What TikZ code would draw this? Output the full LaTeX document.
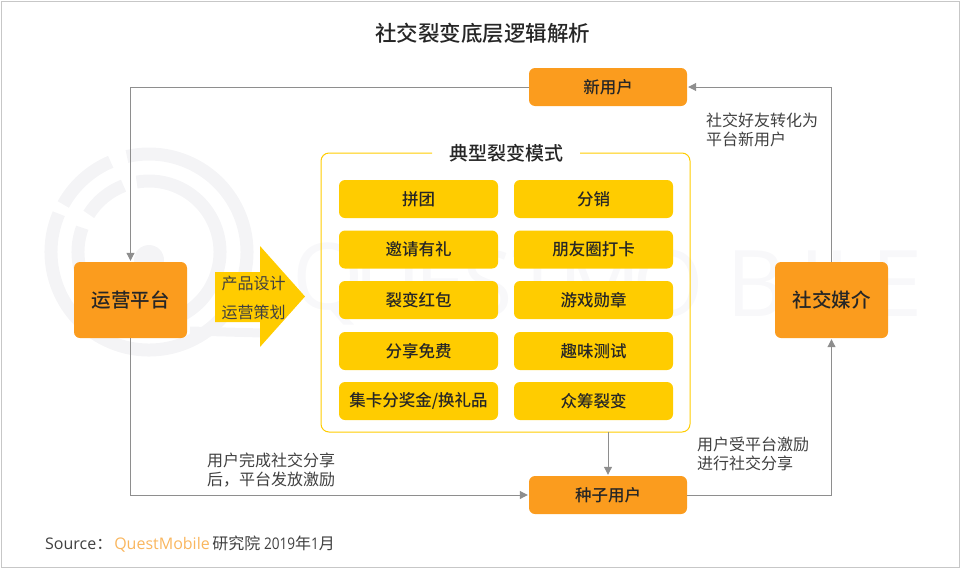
\documentclass[tikz,border=0pt]{standalone}
\usepackage{fontspec}
\setmainfont{Noto Sans CJK SC}
\newfontfamily\mediumfont{Noto Sans CJK SC Medium}
\newfontfamily\latinfont{Open Sans}
\newfontfamily\digitfont[FakeStretch=0.85]{Open Sans}
\usetikzlibrary{arrows.meta}
\definecolor{orangebox}{HTML}{FB9C1E}
\definecolor{yellowbox}{HTML}{FFCC00}
\definecolor{linegray}{HTML}{8E8E8E}
\definecolor{wmgray}{HTML}{F4F4F6}
\definecolor{wmtext}{HTML}{F8F8FA}
\definecolor{textgray}{HTML}{404040}
\definecolor{brandorange}{HTML}{F9B65E}
\begin{document}
\begin{tikzpicture}[x=1pt,y=-1pt,
    flowbox/.style={fill=orangebox,rounded corners=6pt,inner sep=0pt,text=black!85,font=\mediumfont\fontsize{16.5}{20}\selectfont,minimum width=158pt,minimum height=38pt},
    bigbox/.style={flowbox,font=\mediumfont\fontsize{19.5}{24}\selectfont,minimum width=113pt,minimum height=76pt},
    modebox/.style={fill=yellowbox,rounded corners=6pt,inner sep=0pt,text=black!85,font=\mediumfont\fontsize{16.5}{20}\selectfont,minimum width=159pt,minimum height=38pt},
    flowline/.style={draw=linegray,line width=1pt,-{Triangle[length=8pt,width=8pt]},shorten >=1pt},
    note/.style={anchor=west,align=left,inner sep=0pt,text=textgray,font=\fontsize{16}{19.5}\selectfont},
    wmring/.style={draw=wmgray,line width=13pt},
    wmletter/.style={inner sep=0pt,text=wmtext,font=\latinfont\fontsize{92}{92}\selectfont}]
    \path[use as bounding box] (0,0) rectangle (960,568);
    \draw[wmring] (149,252) ++(-157:98) arc[start angle=-157,delta angle=-306,radius=98];
    \draw[wmring] (149,252) ++(-151:98) arc[start angle=-151,delta angle=38,radius=98];
    \draw[wmring] (149,252) ++(-160:71) arc[start angle=-160,delta angle=-300,radius=71];
    \draw[wmring] (149,252) ++(-148:71) arc[start angle=-148,delta angle=37,radius=71];
    \fill[wmgray] (149,260) circle (15);
    \draw[wmgray,line width=9pt] (190,331) -- (262,333);
    \foreach \letter/\xpos in {Q/328,U/388,E/440,S/488,T/538,M/600,O/668,B/756,I/812,L/848,E/897}
        \node[wmletter] (wm\xpos) at (\xpos,284) {\letter};
    \draw[black!22,line width=1pt] (1,1) rectangle (959,567);
    \node[inner sep=0pt,text=black!85,font=\mediumfont\fontsize{21.5}{26}\selectfont] (title) at (482.5,33) {社交裂变底层逻辑解析};
    \node[flowbox] (newuser) at (608,87) {新用户};
    \node[flowbox] (seeduser) at (608,495) {种子用户};
    \node[bigbox] (platform) at (130.5,300) {运营平台};
    \node[bigbox] (social) at (831.5,300) {社交媒介};
    \draw[draw=yellowbox,line width=1pt,rounded corners=8pt] (432,153) -- (321,153) -- (321,432) -- (690,432) -- (690,153) -- (580,153);
    \coordinate (panelbottom) at (608,432);
    \node[inner sep=0pt,text=black!85,font=\mediumfont\fontsize{19}{23}\selectfont] (paneltitle) at (506,153) {典型裂变模式};
    \foreach \name/\modename/\xpos/\ypos in {
        a/拼团/418.5/199,b/邀请有礼/418.5/249.5,c/裂变红包/418.5/300,d/分享免费/418.5/351,e/{集卡分奖金/换礼品}/418.5/401,
        f/分销/593.5/199,g/朋友圈打卡/593.5/249.5,h/游戏勋章/593.5/300,i/趣味测试/593.5/351,j/众筹裂变/593.5/401}
        \node[modebox] (\name) at (\xpos,\ypos) {\modename};
    \fill[yellowbox] (215,272) -- (260,272) -- (260,246) -- (305,296.5) -- (260,347) -- (260,322) -- (215,322) -- cycle;
    \node[inner sep=0pt,text=textgray,font=\fontsize{16}{20}\selectfont] (design) at (253.5,283) {产品设计};
    \node[inner sep=0pt,text=textgray,font=\fontsize{16}{20}\selectfont] (operate) at (253.5,312) {运营策划};
    \draw[flowline] (newuser) -| (platform);
    \draw[flowline] (platform) |- (seeduser);
    \draw[flowline] (seeduser) -| (social);
    \draw[flowline] (social) |- (newuser);
    \draw[flowline] (panelbottom) -- (seeduser);
    \node[note] (noteone) at (706,130) {社交好友转化为\\平台新用户};
    \node[note] (notetwo) at (697,454) {用户受平台激励\\进行社交分享};
    \node[note] (notethree) at (207,470) {用户完成社交分享\\后，平台发放激励};
    \node[anchor=west,inner sep=0pt,text=textgray,font=\fontsize{16}{20}\selectfont] (source) at (45,544) {{\latinfont Source}：\hspace{2pt}\textcolor{brandorange}{\latinfont QuestMobile}\,研究院 {\digitfont 2019}年{\digitfont 1}月};
\end{tikzpicture}
\end{document}
